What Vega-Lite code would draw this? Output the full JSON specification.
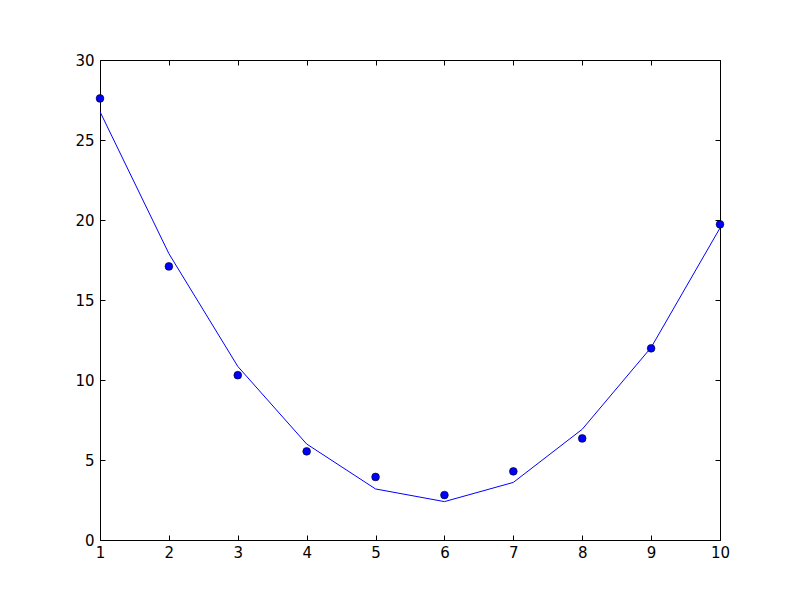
{
  "$schema": "https://vega.github.io/schema/vega-lite/v6.json",
  "width": 620,
  "height": 480,
  "autosize": {"type": "none"},
  "padding": {"left": 100, "top": 60, "right": 80, "bottom": 60},
  "background": "white",
  "config": {
    "view": {"stroke": "black", "strokeWidth": 1},
    "axis": {
      "domain": false,
      "grid": false,
      "tickColor": "black",
      "tickSize": -5,
      "tickWidth": 1,
      "labelColor": "black",
      "labelFont": "DejaVu Sans",
      "labelFontSize": 15,
      "title": null
    }
  },
  "datasets": {
    "obs": [
      {"x": 1, "y": 27.6},
      {"x": 2, "y": 17.1},
      {"x": 3, "y": 10.3},
      {"x": 4, "y": 5.54},
      {"x": 5, "y": 3.94},
      {"x": 6, "y": 2.81},
      {"x": 7, "y": 4.29},
      {"x": 8, "y": 6.35},
      {"x": 9, "y": 11.98},
      {"x": 10, "y": 19.73}
    ],
    "fit": [
      {"x": 1, "y": 26.77},
      {"x": 2, "y": 17.9},
      {"x": 3, "y": 10.85},
      {"x": 4, "y": 6.0},
      {"x": 5, "y": 3.19},
      {"x": 6, "y": 2.4},
      {"x": 7, "y": 3.6},
      {"x": 8, "y": 6.92},
      {"x": 9, "y": 12.03},
      {"x": 10, "y": 19.5}
    ]
  },
  "layer": [
    {
      "data": {"name": "fit"},
      "mark": {"type": "line", "color": "#0000ff", "strokeWidth": 1, "clip": true},
      "encoding": {
        "x": {"field": "x", "type": "quantitative", "scale": {"domain": [1, 10], "nice": false, "zero": false},
              "axis": {"orient": "bottom", "values": [1,2,3,4,5,6,7,8,9,10], "labelPadding": 10, "labelFlush": false}},
        "y": {"field": "y", "type": "quantitative", "scale": {"domain": [0, 30], "nice": false},
              "axis": {"orient": "left", "values": [0,5,10,15,20,25,30], "labelPadding": 11}}
      }
    },
    {
      "data": {"name": "obs"},
      "mark": {"type": "point", "shape": "circle", "filled": true, "color": "#0000ff", "stroke": "black", "strokeWidth": 0.6, "opacity": 1, "size": 60, "clip": false},
      "encoding": {
        "x": {"field": "x", "type": "quantitative",
              "axis": {"orient": "top", "values": [1,2,3,4,5,6,7,8,9,10], "labels": false}},
        "y": {"field": "y", "type": "quantitative",
              "axis": {"orient": "right", "values": [0,5,10,15,20,25,30], "labels": false}}
      }
    }
  ],
  "resolve": {"axis": {"x": "independent", "y": "independent"}}
}
